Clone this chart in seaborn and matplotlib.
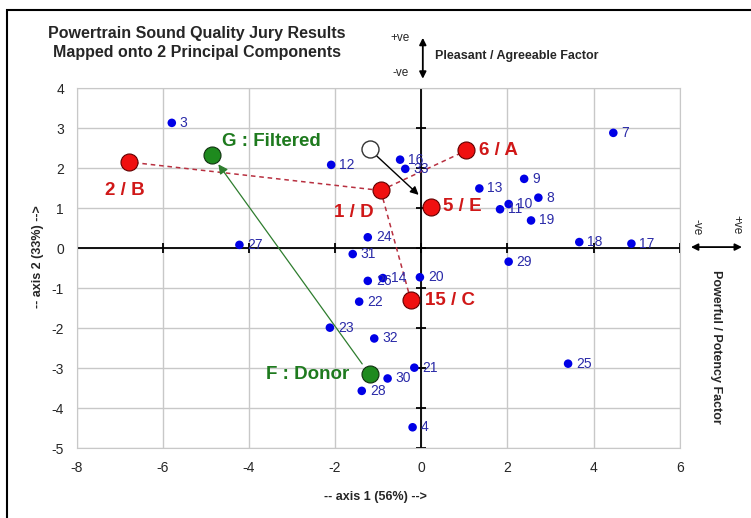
import pandas as pd
import seaborn as sns
import matplotlib.pyplot as plt
from matplotlib.patches import Rectangle

# jury samples (blue dots)
ids = ["3", "7", "12", "16", "33", "13", "9", "8", "10", "11", "19", "18", "17",
       "24", "31", "26", "14", "20", "22", "23", "32", "21", "30", "28", "4", "29", "25", "27"]
ax1 = [-5.79, 4.46, -2.09, -0.49, -0.37, 1.35, 2.39, 2.72, 2.03, 1.83, 2.55, 3.67, 4.88,
       -1.24, -1.59, -1.24, -0.89, -0.03, -1.44, -2.12, -1.09, -0.16, -0.78, -1.38, -0.20, 2.03, 3.41, -4.22]
ax2 = [3.13, 2.88, 2.08, 2.21, 1.98, 1.49, 1.73, 1.26, 1.10, 0.97, 0.69, 0.15, 0.11,
       0.27, -0.15, -0.82, -0.75, -0.73, -1.34, -1.99, -2.26, -2.99, -3.26, -3.57, -4.48, -0.34, -2.89, 0.08]

# named sounds (red)
named = ["2 / B", "1 / D", "6 / A", "5 / E", "15 / C"]
named_x = [-6.78, -0.94, 1.05, 0.23, -0.24]
named_y = [2.15, 1.44, 2.44, 1.03, -1.31]

# donor / filtered (green)
green = ["F : Donor", "G : Filtered"]
green_x = [-1.20, -4.86]
green_y = [-3.15, 2.32]

# hollow marker and its arrow target
open_x, open_y = -1.20, 2.47
open_to_x, open_to_y = -0.06, 1.33

xticks = [-8, -6, -4, -2, 0, 2, 4, 6]
yticks = [-5, -4, -3, -2, -1, 0, 1, 2, 3, 4]

sns.set_style("white")
plt.rcParams["font.family"] = ["Liberation Sans", "DejaVu Sans"]
plt.rcParams["axes.unicode_minus"] = False

fig = plt.figure(figsize=(7.51, 5.18), dpi=100)
ax = fig.add_axes([0.102, 0.135, 0.803, 0.695])

ax.set_xlim(-8, 6)
ax.set_ylim(-5, 4)
ax.set_xticks(xticks)
ax.set_yticks(yticks)
ax.grid(True, color="#c8c8c8", lw=1)
for s in ax.spines.values():
    s.set_color("#c8c8c8")
ax.tick_params(length=0, labelsize=10, pad=9)

# axis lines through origin with small ticks
ax.axhline(0, color="black", lw=1.3, zorder=2)
ax.axvline(0, color="black", lw=1.3, zorder=2)
ax.plot(xticks, [0] * len(xticks), ls="none", marker="|", ms=7, mew=1.3, color="black", zorder=2)
ax.plot([0] * len(yticks), yticks, ls="none", marker="_", ms=7, mew=1.3, color="black", zorder=2)

# red dashed paths
dash = dict(color="#b83040", lw=1.1, ls=(0, (3, 2.5)), zorder=3)
for i in [0, 2, 4]:
    ax.plot([named_x[1], named_x[i]], [named_y[1], named_y[i]], **dash)

# green arrow donor -> filtered
ax.annotate("", xy=(green_x[1], green_y[1]), xytext=(green_x[0], green_y[0]),
            arrowprops=dict(arrowstyle="-|>", color="#2e7d2e", lw=0.9, shrinkA=9, shrinkB=8,
                            mutation_scale=14), zorder=3)
# black arrow from open circle
ax.annotate("", xy=(open_to_x, open_to_y), xytext=(open_x, open_y),
            arrowprops=dict(arrowstyle="-|>", color="black", lw=1, shrinkA=6, shrinkB=0,
                            mutation_scale=12), zorder=3)

df = pd.DataFrame({"x": ax1, "y": ax2, "id": ids})
sns.scatterplot(data=df, x="x", y="y", ax=ax, color="#0000e6", s=38, edgecolor="none", zorder=4)
for i, row in df.iterrows():
    ax.annotate(row["id"], (row["x"], row["y"]), xytext=(8, 0), textcoords="offset pixels",
                va="center", ha="left", fontsize=10, color="#2a2aa8", zorder=5)

sns.scatterplot(x=named_x, y=named_y, ax=ax, color="#f01010", s=150, edgecolor="#600000",
                linewidth=0.8, zorder=6)
sns.scatterplot(x=green_x, y=green_y, ax=ax, color="#1e8a1e", s=150, edgecolor="#103010",
                linewidth=0.8, zorder=6)
ax.scatter([open_x], [open_y], s=150, facecolor="white", edgecolor="#333333", lw=1, zorder=6)

red = "#d01818"
red_off = [(-24, -28, "left"), (-7, -22, "right"), (13, 0, "left"), (12, 0, "left"), (14, 0, "left")]
for lab, x, y, (dx, dy, ha) in zip(named, named_x, named_y, red_off):
    ax.annotate(lab, (x, y), xytext=(dx, dy), textcoords="offset pixels",
                ha=ha, va="center", fontsize=13.5, fontweight="bold", color=red, zorder=7)

green_off = [(-20, 0, "right"), (10, 14, "left")]
for lab, x, y, (dx, dy, ha) in zip(green, green_x, green_y, green_off):
    ax.annotate(lab, (x, y), xytext=(dx, dy), textcoords="offset pixels",
                ha=ha, va="center", fontsize=13.5, fontweight="bold", color="#1e7a1e", zorder=7)

ax.set_xlabel("")
ax.set_ylabel("")
fig.text(0.5, 0.04, "-- axis 1 (56%) -->", ha="center", va="center", fontsize=9, fontweight="bold")
fig.text(0.051, 0.505, "-- axis 2 (33%) -->", ha="center", va="center", rotation=90,
         fontsize=9, fontweight="bold")

fig.text(0.262, 0.917, "Powertrain Sound Quality Jury Results\nMapped onto 2 Principal Components",
         ha="center", va="center", fontsize=11.5, fontweight="bold", linespacing=1.35)

# factor annotations
fig.text(0.533, 0.927, "+ve", ha="center", va="center", fontsize=8.5)
fig.text(0.533, 0.859, "-ve", ha="center", va="center", fontsize=8.5)
fig.text(0.579, 0.892, "Pleasant / Agreeable Factor", ha="left", va="center", fontsize=9,
         fontweight="bold")
fig.add_artist(plt.Annotation("", xy=(0.563, 0.927), xytext=(0.563, 0.848),
                              xycoords="figure fraction", textcoords="figure fraction",
                              arrowprops=dict(arrowstyle="<|-|>", color="black", lw=1.3,
                                              mutation_scale=10, shrinkA=0, shrinkB=0)))
fig.text(0.928, 0.562, "-ve", ha="center", va="center", rotation=270, fontsize=8.5)
fig.text(0.980, 0.566, "+ve", ha="center", va="center", rotation=270, fontsize=8.5)
fig.text(0.953, 0.33, "Powerful / Potency Factor", ha="center", va="center", rotation=270,
         fontsize=9, fontweight="bold")
fig.add_artist(plt.Annotation("", xy=(0.92, 0.523), xytext=(0.988, 0.523),
                              xycoords="figure fraction", textcoords="figure fraction",
                              arrowprops=dict(arrowstyle="<|-|>", color="black", lw=1.3,
                                              mutation_scale=10, shrinkA=0, shrinkB=0)))

# outer frame (right and bottom run off the image)
fig.add_artist(Rectangle((0.0093, -0.05), 1.1, 1.031, transform=fig.transFigure,
                         fill=False, edgecolor="black", lw=1.5))

fig.savefig("out.png", dpi=100)
